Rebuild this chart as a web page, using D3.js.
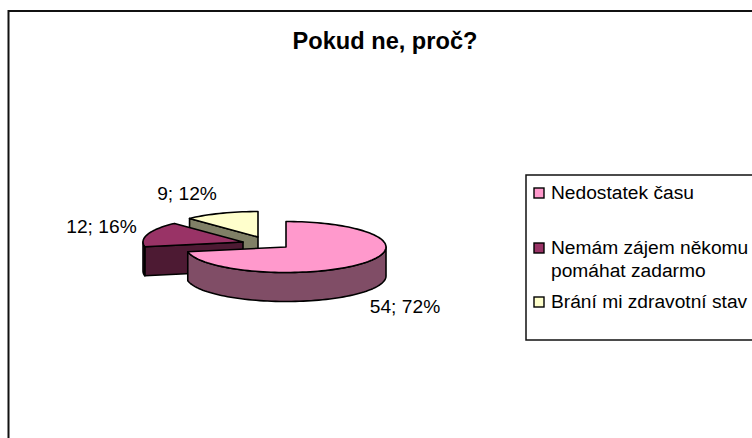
<!DOCTYPE html>
<html>
<head>
<meta charset="utf-8">
<script src="https://cdn.jsdelivr.net/npm/d3@7"></script>
<style>
html, body { margin: 0; padding: 0; background: #fff; overflow: hidden; }
text { font-family: "Liberation Sans", Arial, sans-serif; fill: #000; }
</style>
</head>
<body>
<div id="chart"></div>
<script>
const title = "Pokud ne, proč?"
const categories = ["Nedostatek času", "Nemám zájem někomu pomáhat zadarmo", "Brání mi zdravotní stav"]
const values = [54, 12, 9]
const percents = [72, 16, 12]

const topColors = ["#ff99cc", "#993366", "#ffffcc"]
const sideColors = ["#804d66", "#4d1a33", "#808066"]

const width = 752,
    height = 438

// ellipse of the tilted pie and how far each slice is pulled out
const rx = 100,
    ry = 25.5,
    depth = 29
const centers = [[286, 247], [243, 242], [258, 237]]
const labelPos = [[405, 313], [101.5, 233], [187, 200]]

const svg = d3.select("#chart").append("svg")
    .attr("width", width)
    .attr("height", height)
    .style("display", "block")

// chart frame, runs off the right and bottom of the picture
svg.append("rect")
    .attr("x", 8.5)
    .attr("y", 11)
    .attr("width", width + 20)
    .attr("height", height + 20)
    .attr("fill", "#fff")
    .attr("stroke", "#111")
    .attr("stroke-width", 2)

svg.append("text")
    .attr("x", 385)
    .attr("y", 49)
    .attr("text-anchor", "middle")
    .attr("font-size", 23.6)
    .attr("font-weight", "bold")
    .text(title)

const slices = d3.pie().sort(null)(values)

const lineGen = d3.line()
    .x(d => d[0])
    .y(d => d[1])

function rim(c, angle, dy = 0) {
    return [c[0] + rx * Math.sin(angle), c[1] - ry * Math.cos(angle) + dy]
}

function arcPoints(c, a0, a1, dy = 0) {
    const n = Math.max(2, Math.ceil((a1 - a0) / 0.04))
    return d3.range(n + 1).map(i => rim(c, a0 + (a1 - a0) * i / n, dy))
}

const pieG = svg.append("g")
    .attr("stroke", "#000")
    .attr("stroke-width", 1.6)
    .attr("stroke-linejoin", "round")

// draw back to front: yellow, maroon, then pink on top
const order = [2, 1, 0]
order.forEach(i => {
    const s = slices[i],
        c = centers[i],
        a0 = s.startAngle,
        a1 = s.endAngle

    // wall of the cut, only where it faces the viewer
    if (i > 0) {
        const p = rim(c, a0)
        pieG.append("path")
            .attr("d", lineGen([c, p, [p[0], p[1] + depth], [c[0], c[1] + depth]]) + "Z")
            .attr("fill", sideColors[i])
    }

    // outer rim on the lower half of the ellipse
    const r0 = Math.max(a0, Math.PI / 2),
        r1 = Math.min(a1, 3 * Math.PI / 2)
    if (r1 > r0) {
        const front = arcPoints(c, r0, r1),
            back = arcPoints(c, r0, r1, depth).reverse()
        pieG.append("path")
            .attr("d", lineGen(front.concat(back)) + "Z")
            .attr("fill", sideColors[i])
    }

    pieG.append("path")
        .attr("d", lineGen([c].concat(arcPoints(c, a0, a1))) + "Z")
        .attr("fill", topColors[i])
})

svg.append("g").selectAll("text")
    .data(values)
    .join("text")
    .attr("x", (d, i) => labelPos[i][0])
    .attr("y", (d, i) => labelPos[i][1])
    .attr("text-anchor", "middle")
    .attr("font-size", 19.2)
    .text((d, i) => d + "; " + percents[i] + "%")

// legend
svg.append("rect")
    .attr("x", 526)
    .attr("y", 175)
    .attr("width", width)
    .attr("height", 165)
    .attr("fill", "#fff")
    .attr("stroke", "#111")
    .attr("stroke-width", 1.5)

const legendLines = [["Nedostatek času"], ["Nemám zájem někomu", "pomáhat zadarmo"], ["Brání mi zdravotní stav"]]
const legendBase = [199, 254, 308]

const legend = svg.append("g").selectAll("g")
    .data(categories)
    .join("g")

legend.append("rect")
    .attr("x", 534)
    .attr("y", (d, i) => legendBase[i] - 11)
    .attr("width", 10)
    .attr("height", 10)
    .attr("fill", (d, i) => topColors[i])
    .attr("stroke", "#000")
    .attr("stroke-width", 1.4)

legend.each(function(d, i) {
    d3.select(this).selectAll("text")
        .data(legendLines[i])
        .join("text")
        .attr("x", 551)
        .attr("y", (t, k) => legendBase[i] + k * 23)
        .attr("font-size", 19.2)
        .text(t => t)
})
</script>
</body>
</html>
